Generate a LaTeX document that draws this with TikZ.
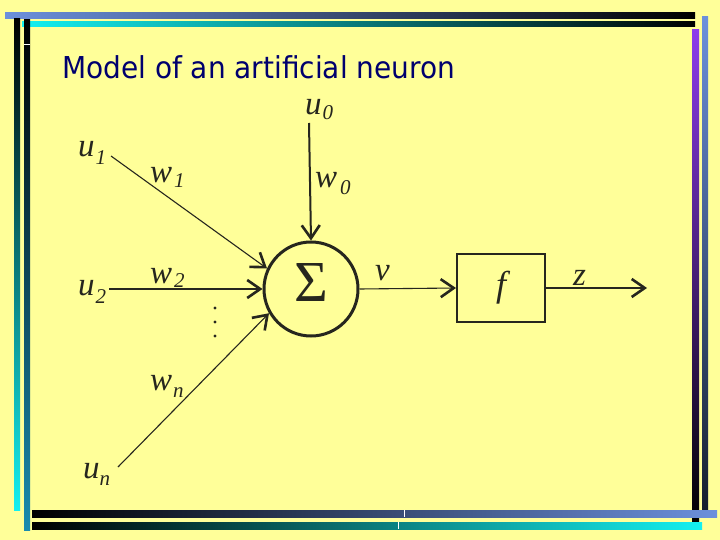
\documentclass[tikz,border=0pt]{standalone}
\usepackage{fontspec}
\setmainfont{Liberation Serif}
\newfontfamily\titlefont{DejaVu Sans}
\usetikzlibrary{arrows.meta}
\definecolor{bg}{RGB}{255,255,153}
\definecolor{ink}{RGB}{38,38,30}
\definecolor{navy}{RGB}{0,0,110}
\definecolor{lblue}{RGB}{108,144,220}
\definecolor{cyanb}{RGB}{20,240,240}
\definecolor{tealb}{RGB}{26,140,175}
\definecolor{purp}{RGB}{140,60,235}
\definecolor{dkb}{RGB}{20,30,45}
\tikzset{
  arr/.style={-{Straight Barb[length=13pt,width=18pt,line width=2.6pt]}},
  thinln/.style={draw=ink, line width=1.1pt},
  thickln/.style={draw=ink, line width=2pt},
  lab/.style={text=ink, inner sep=0pt, anchor=base west, font=\fontsize{33}{33}\selectfont\itshape},
}
\newcommand{\sbs}[2]{\raisebox{-#1pt}{\fontsize{21}{21}\selectfont\itshape #2}}
\begin{document}
\begin{tikzpicture}[x=1pt,y=-1pt]
\useasboundingbox (0,0) rectangle (720,540);
\fill[bg] (0,0) rectangle (720,540);
% frame bars
\shade[left color=lblue, right color=black] (5,13) rectangle (695,19);
\shade[left color=cyanb, right color=black] (22,22) rectangle (695,27);
\shade[top color=black, bottom color=cyanb] (14,19) rectangle (20,510);
\shade[top color=black, bottom color=tealb] (24,20) rectangle (30,530);
\fill[white] (24,44.5) rectangle (30,45.5);
\shade[top color=purp, bottom color=black] (692,30) rectangle (699,522);
\shade[top color=lblue, bottom color=dkb] (702,17) rectangle (708,510);
\shade[left color=black, right color=lblue] (32,510) rectangle (717,517);
\shade[left color=black, right color=cyanb] (32,522) rectangle (702,529);
\fill[white] (403.5,510) rectangle (404.5,517);
\fill[white] (397.5,522) rectangle (398.5,529);
% title
\node[anchor=base west, inner sep=0pt, text=navy] (title) at (62,79)
  {\titlefont\scalebox{0.965}[1.04]{\fontsize{29}{29}\selectfont Model of an artificial neuron}};
% neuron
\node[circle, draw=ink, line width=3pt, minimum size=94pt, inner sep=0pt] (sum) at (311,289) {};
\node[text=ink, inner sep=0pt, font=\fontsize{58}{58}\selectfont] (sigma) at (311,283) {Σ};
\node[draw=ink, line width=2pt, minimum width=88pt, minimum height=68pt, inner sep=0pt,
      font=\fontsize{36}{36}\selectfont\itshape, text=ink] (box) at (501,288) {f};
% labels
\node[lab] (u0) at (305,115) {u\hspace{1pt}\sbs{5}{0}};
\node[lab] (w0) at (315,188) {w\hspace{3pt}\sbs{7}{0}};
\node[lab] (u1) at (78,157) {u\hspace{1pt}\sbs{8}{1}};
\node[lab] (w1) at (150,183) {w\hspace{2pt}\sbs{5}{1}};
\node[lab] (u2) at (78,295) {u\hspace{1pt}\sbs{8}{2}};
\node[lab] (w2) at (150,283) {w\hspace{2pt}\sbs{4}{2}};
\node[lab] (wn) at (150,390) {w\hspace{1pt}\sbs{7}{n}};
\node[lab] (un) at (83,478) {u\hspace{0pt}\sbs{7}{n}};
\node[lab] (v) at (375,280) {v};
\node[lab] (z) at (573,285) {z};
% dots
\fill[ink] (215,308) circle (1.6) (215,322) circle (1.6) (215,336) circle (1.6);
% connectors
\coordinate (u0s) at (309,123);
\coordinate (u1s) at (111,156);
\coordinate (u2s) at (109,289);
\coordinate (uns) at (118,467);
\coordinate (zend) at (647,288);
\draw[thickln, arr] (u0s) -- (sum.north);
\draw[thinln, arr] (u1s) -- (sum.155);
\draw[thickln, arr] (u2s) -- (sum.west);
\draw[thinln, arr] (uns) -- (sum.210);
\draw[thinln, arr] (sum.east) -- (box.west);
\draw[thickln, arr] (box.east) -- (zend);
\end{tikzpicture}
\end{document}
